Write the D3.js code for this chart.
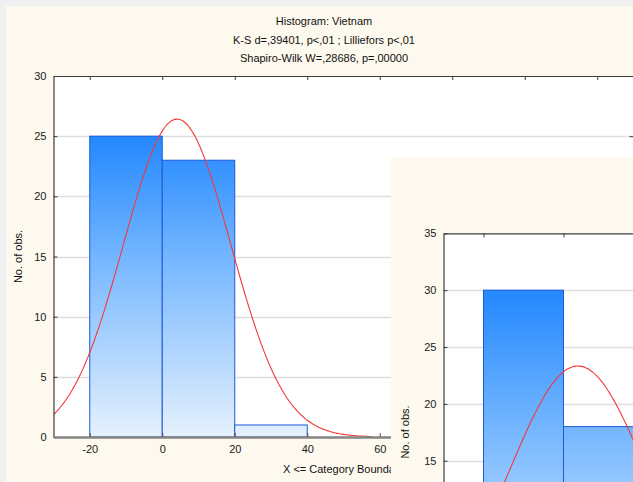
<!DOCTYPE html>
<html>
<head>
<meta charset="utf-8">
<script src="https://cdn.jsdelivr.net/npm/d3@7"></script>
<style>
  html, body { margin: 0; padding: 0; background: #f0f0f0; overflow: hidden; }
  svg { display: block; font-family: "Liberation Sans", Arial, sans-serif; }
</style>
</head>
<body>
<svg id="chart" width="633" height="482"></svg>
<script>
// ---- Histogram: Vietnam (front window) ----
const titleLines = [
  "Histogram: Vietnam",
  "K-S d=,39401, p<,01 ; Lilliefors p<,01",
  "Shapiro-Wilk W=,28686, p=,00000"
];
const binEdges = [-20, 0, 20, 40];
const counts = [25, 23, 1];
const fitMean = 4.1;
const fitSd = 14.8;
const curveRange = [-30, 58];
const xDomain = [-30, 130];
const xTicks = [-20, 0, 20, 40, 60, 80, 100, 120];
const yTicks = [0, 5, 10, 15, 20, 25, 30];
const xTitle = "X <= Category Boundaries";
const yTitle = "No. of obs.";

// ---- second histogram window (partly covering) ----
const binEdges2 = [-20, 0, 20, 40];
const counts2 = [30, 18, 2];
const fitMean2 = 3.6;
const fitSd2 = 17.1;
const curveRange2 = [-30, 60];
const yDomain2 = [0, 35];
const xTicks2 = [-20, 0, 20, 40, 60, 80, 100, 120];
const yTicks2 = [15, 20, 25, 30, 35];

const svg = d3.select("#chart");
const CREAM = "#fdf9ee";

svg.append("rect").attr("width", 633).attr("height", 482).attr("fill", "#f0f0f0");

// expected normal frequency per bin
function normalCounts(mean, sd, n, binW, range) {
  const pts = d3.range(range[0], range[1] + 0.001, 0.5);
  return pts.map(v => [v, n * binW / (sd * Math.sqrt(2 * Math.PI)) *
                          Math.exp(-0.5 * ((v - mean) / sd) ** 2)]);
}

function drawHistogram(g, cfg) {
  const { x, y, edges, vals, mean, sd, crange, xt, yt, id, showXLabels } = cfg;
  const [x0, x1] = x.range();
  const [yb, yt0] = y.range();

  g.append("clipPath").attr("id", "clip" + id)
    .append("rect").attr("x", x0).attr("y", yt0).attr("width", x1 - x0).attr("height", yb - yt0);

  const grad = g.append("linearGradient").attr("id", "grad" + id)
    .attr("gradientUnits", "userSpaceOnUse")
    .attr("x1", 0).attr("x2", 0)
    .attr("y1", y(d3.max(vals))).attr("y2", y(0));
  grad.append("stop").attr("offset", 0).attr("stop-color", "#2388ff");
  grad.append("stop").attr("offset", 0.45).attr("stop-color", "#7dbbff");
  grad.append("stop").attr("offset", 1).attr("stop-color", "#e6f1fd");

  const plot = g.append("g").attr("clip-path", `url(#clip${id})`);
  plot.append("rect").attr("x", x0).attr("y", yt0).attr("width", x1 - x0)
    .attr("height", yb - yt0).attr("fill", "#ffffff");

  // horizontal grid
  plot.selectAll("line.grid").data(yt.filter(v => v > 0 && v < y.domain()[1]))
    .join("line").attr("class", "grid")
    .attr("x1", x0).attr("x2", x1)
    .attr("y1", d => Math.round(y(d)) + 0.5).attr("y2", d => Math.round(y(d)) + 0.5)
    .attr("stroke", "#dedede").attr("stroke-width", 1.4);

  // bars
  plot.selectAll("rect.bar").data(vals).join("rect").attr("class", "bar")
    .attr("x", (d, i) => x(edges[i]))
    .attr("width", (d, i) => x(edges[i + 1]) - x(edges[i]))
    .attr("y", d => y(d))
    .attr("height", d => y(0) - y(d))
    .attr("fill", `url(#grad${id})`)
    .attr("stroke", "#1d5ad6").attr("stroke-width", 1);

  // fitted normal curve
  const n = d3.sum(vals);
  const binW = edges[1] - edges[0];
  plot.append("path")
    .datum(normalCounts(mean, sd, n, binW, crange))
    .attr("fill", "none").attr("stroke", "#f03a3a").attr("stroke-width", 1.1)
    .attr("d", d3.line().x(d => x(d[0])).y(d => y(d[1])).curve(d3.curveMonotoneX));

  // axes: ticks point inward
  const left = g.append("g").attr("transform", `translate(${x0},0)`)
    .call(d3.axisLeft(y).tickValues(yt).tickSizeInner(-4).tickSizeOuter(0).tickPadding(7)
      .tickFormat(d => String(d)));
  const right = g.append("g").attr("transform", `translate(${x1},0)`)
    .call(d3.axisRight(y).tickValues(yt).tickSizeInner(-4).tickSizeOuter(0).tickFormat(""));
  const top = g.append("g").attr("transform", `translate(0,${yt0})`)
    .call(d3.axisTop(x).tickValues(xt).tickSizeInner(-4).tickSizeOuter(0).tickFormat(""));
  const bottom = g.append("g").attr("transform", `translate(0,${yb})`)
    .call(d3.axisBottom(x).tickValues(xt).tickSizeInner(-4).tickSizeOuter(0).tickPadding(8)
      .tickFormat(showXLabels ? (d => String(d)) : ""));

  [left, right, top].forEach(a => {
    a.select(".domain").attr("stroke", "#3c3c3c").attr("stroke-width", 1.2);
    a.selectAll(".tick line").attr("stroke", "#3c3c3c");
  });
  bottom.select(".domain").attr("stroke", "#858585").attr("stroke-width", 2.4);
  bottom.selectAll(".tick line").attr("stroke", "#555");
  g.selectAll(".tick text").attr("font-size", 11).attr("fill", "#1a1a1a")
    .attr("font-family", '"Liberation Sans", Arial, sans-serif');
}

// front window panel
svg.append("rect").attr("x", 6).attr("y", 6).attr("width", 640).attr("height", 490).attr("fill", CREAM);

const g1 = svg.append("g");
titleLines.forEach((t, i) => {
  g1.append("text").attr("x", 324).attr("y", [24.6, 43.9, 62.2][i])
    .attr("text-anchor", "middle").attr("font-size", 11).attr("fill", "#111").text(t);
});

const x1s = d3.scaleLinear().domain(xDomain).range([53.5, 53.5 + 160 * 3.625]);
const y1s = d3.scaleLinear().domain([0, 30]).range([437, 76]);
drawHistogram(g1, { x: x1s, y: y1s, edges: binEdges, vals: counts, mean: fitMean, sd: fitSd,
  crange: curveRange, xt: xTicks, yt: yTicks, id: 1, showXLabels: true });

g1.append("text").attr("x", 283).attr("y", 473).attr("font-size", 11).attr("fill", "#111").text(xTitle);
g1.append("text").attr("transform", "translate(22,256.5) rotate(-90)")
  .attr("text-anchor", "middle").attr("font-size", 11).attr("fill", "#111").text(yTitle);

// second window, drawn over the first
const g2 = svg.append("g");
g2.append("rect").attr("x", 391).attr("y", 157).attr("width", 300).attr("height", 400).attr("fill", CREAM);
const x2s = d3.scaleLinear().domain(xDomain).range([443.5, 443.5 + 160 * 4]);
const y2s = d3.scaleLinear().domain(yDomain2).range([631.3, 233.3]);
drawHistogram(g2, { x: x2s, y: y2s, edges: binEdges2, vals: counts2, mean: fitMean2, sd: fitSd2,
  crange: curveRange2, xt: xTicks2, yt: yTicks2, id: 2, showXLabels: false });
g2.append("text").attr("transform", "translate(409,432) rotate(-90)")
  .attr("text-anchor", "middle").attr("font-size", 11).attr("fill", "#111").text(yTitle);
</script>
</body>
</html>
